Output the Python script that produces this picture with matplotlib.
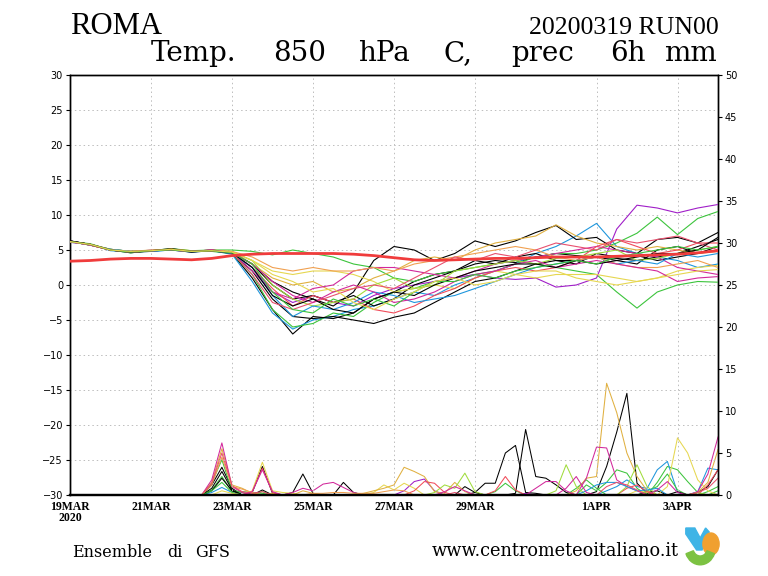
import matplotlib
matplotlib.use("Agg")
import matplotlib.pyplot as plt
from matplotlib.patches import Polygon, Ellipse, Wedge

# time axis: hours from 19MAR2020 00z
hours_t = list(range(0, 385, 12))   # temperature, 12h
hours_p = list(range(0, 385, 6))    # precipitation, 6h

tick_hours = [0, 48, 96, 144, 192, 240, 312, 360]
tick_labels = ["19MAR\n2020", "21MAR", "23MAR", "25MAR", "27MAR", "29MAR", "1APR", "3APR"]

# ensemble colours (GrADS-like)
member_colors = ["#000000", "#3cc43c", "#1e96dc", "#3cc43c", "#a01ec8",
                 "#000000", "#000000", "#000000", "#e6d750", "#e0b040",
                 "#d2289b", "#f04b5a", "#a0dc3c", "#1e96dc", "#f0a050",
                 "#e8506e", "#d2289b", "#000000", "#3cc43c", "#e6d750"]

# temperature 850 hPa, one list per member (12h)
temp_members = [
    [6.3,5.8,5.0,4.6,4.9,5.0,4.7,5.0,4.5, 1.0,-3.5,-7.0,-4.5,-4.8,-4.0,-2.0,-1.0,0.5,1.5,2.0,3.0,3.5,3.2,4.0,4.5,4.2,4.0,3.8,3.5,4.0,4.5,5.5,6.5],
    [6.2,5.7,5.1,4.8,4.9,5.2,4.9,5.0,5.0, 4.8,4.3,5.0,4.5,4.0,3.0,2.5,1.0,0.5,1.5,2.0,2.5,3.0,3.5,3.0,2.5,2.0,1.5,-1.0,-3.3,-1.0,0.0,0.5,0.4],
    [6.1,5.8,4.9,4.7,4.8,5.0,4.7,4.9,4.4, 0.5,-4.0,-6.3,-5.0,-4.5,-3.5,-3.0,-2.0,-1.0,-1.5,0.0,1.0,2.0,3.0,4.5,5.5,7.0,8.8,5.5,4.5,4.0,3.5,2.5,3.0],
    [6.2,5.9,5.0,4.6,4.9,5.1,4.8,4.8,4.5, 1.5,-3.5,-6.0,-5.5,-4.0,-4.5,-2.5,-1.0,-0.5,0.5,1.0,1.5,2.0,3.0,4.0,4.5,4.5,5.0,6.0,7.4,9.7,7.2,9.5,10.5],
    [6.3,5.7,5.0,4.7,5.0,5.0,4.8,4.9,4.6, 2.5,-1.0,-2.5,-1.5,-2.5,-3.0,-1.5,-0.5,0.0,0.5,1.0,1.5,1.0,0.8,1.0,-0.3,0.0,1.0,8.0,11.4,11.0,10.3,11.0,11.5],
    [6.2,5.8,5.1,4.8,4.9,5.2,4.8,5.0,4.7, 3.0,0.5,-1.0,-2.0,-3.0,-1.0,3.5,5.5,5.0,3.5,4.5,6.3,5.5,6.3,7.5,8.5,6.5,6.8,5.0,4.5,6.5,6.8,6.0,7.5],
    [6.2,5.7,5.0,4.7,4.8,5.1,4.7,4.9,4.5, 2.0,-2.0,-4.5,-4.8,-4.5,-5.0,-5.5,-4.6,-4.0,-2.5,-1.0,0.5,1.0,2.0,3.0,3.5,3.0,4.5,4.0,4.2,3.5,4.0,4.5,5.5],
    [6.3,5.8,5.0,4.7,4.9,5.0,4.9,4.9,4.6, 3.0,0.0,-2.0,-1.5,-2.5,-1.5,-3.0,-2.0,0.0,1.0,2.0,3.5,3.0,4.0,4.5,3.5,3.5,4.0,3.5,3.0,5.0,5.5,4.5,5.0],
    [6.2,5.8,5.1,4.8,4.9,5.0,4.8,5.0,4.8, 3.5,2.0,1.5,2.0,2.0,1.5,0.5,-1.0,-0.5,0.0,-0.5,1.0,2.0,1.5,1.0,1.5,1.5,1.5,1.0,0.5,1.0,2.0,2.5,2.8],
    [6.2,5.7,5.0,4.8,5.0,5.1,4.9,4.9,4.7, 3.0,1.0,0.0,0.5,-1.0,-0.5,1.0,2.0,3.5,4.0,3.5,5.0,6.0,6.5,7.0,8.6,7.0,6.0,5.5,5.0,5.5,5.0,4.5,4.8],
    [6.1,5.8,5.0,4.7,4.9,5.0,4.8,5.0,4.6, 2.0,-1.0,-2.0,-0.5,0.0,2.0,2.5,2.5,2.0,1.5,1.0,2.0,3.0,3.5,4.0,4.5,5.0,5.5,5.0,4.5,4.0,2.5,2.0,1.5],
    [6.2,5.7,5.0,4.8,4.9,5.1,4.8,4.9,4.6, 2.5,-0.5,-3.0,-1.5,-2.5,-2.0,-3.5,-4.0,-3.0,-1.5,-0.5,1.0,2.0,2.5,2.0,2.5,3.5,5.5,6.5,5.5,4.5,5.0,6.0,6.0],
    [6.2,5.8,5.0,4.7,4.9,5.1,4.9,4.9,4.7, 3.5,0.0,-2.0,-3.0,-2.5,-2.0,0.0,1.0,-0.5,0.0,2.0,2.5,3.0,3.5,3.0,3.8,4.0,4.5,5.0,3.5,3.8,4.5,5.0,5.5],
    [6.2,5.7,5.1,4.8,4.8,5.0,4.8,4.9,4.5, 2.5,-1.5,-4.5,-3.0,-3.5,-2.5,-1.0,-1.5,-2.5,-2.0,-1.5,-0.5,0.5,1.5,2.5,3.0,3.5,4.0,3.0,3.5,3.0,4.5,4.0,4.5],
    [6.2,5.8,5.0,4.7,4.9,5.1,4.8,4.9,4.8, 4.0,2.5,2.0,2.5,2.0,2.0,2.5,2.0,3.0,3.5,4.0,4.5,5.0,5.5,5.0,4.0,3.5,4.0,3.0,2.5,2.5,3.0,3.5,2.5],
    [6.2,5.7,5.0,4.7,4.9,5.0,4.8,4.9,4.6, 1.5,-2.5,-3.5,-2.5,-1.5,-0.5,0.0,-0.5,1.0,2.5,4.0,3.5,4.5,4.0,5.0,6.0,5.5,5.0,6.5,6.0,6.5,7.0,6.0,5.0],
    [6.2,5.8,5.0,4.7,4.9,5.0,4.8,5.0,4.6, 3.0,0.5,-1.5,-2.5,-1.0,0.0,-1.0,-2.5,-2.0,-1.0,0.5,1.5,2.0,3.0,3.5,2.5,3.0,3.5,3.0,2.5,2.0,0.5,1.0,1.2],
    [6.3,5.8,5.0,4.7,4.9,5.1,4.8,4.9,4.6, 2.5,-1.5,-3.0,-2.0,-3.5,-4.0,-2.0,-1.0,-1.5,0.0,1.0,2.0,2.5,3.0,3.0,2.5,3.5,3.0,3.5,4.0,4.5,4.5,5.0,6.8],
    [6.2,5.8,5.0,4.7,4.9,5.0,4.8,4.9,4.6, 3.0,-1.0,-3.5,-4.0,-2.0,-3.0,-2.0,-3.0,-1.0,0.5,0.5,1.5,1.0,2.0,2.5,3.0,3.5,3.0,4.0,4.5,5.0,5.5,5.0,5.5],
    [6.2,5.8,5.0,4.8,4.9,5.1,4.8,4.9,4.7, 3.5,1.5,0.5,-1.0,-0.5,-2.5,-3.5,-2.0,-1.0,0.5,1.0,0.0,0.5,1.5,2.0,2.0,1.0,0.5,0.0,0.5,1.0,1.5,2.0,2.2],
]

# climatology (thick red)
temp_clim = [3.4,3.5,3.7,3.8,3.8,3.7,3.6,3.8,4.2, 4.4,4.5,4.5,4.5,4.5,4.4,4.2,3.9,3.6,
             3.5,3.6,3.7,3.8,3.8,3.9,4.0,4.0,4.0, 4.1,4.2,4.3,4.4,4.6,4.9]

# 6h precipitation (mm), one list per member, 65 steps
prec_members = [
    [0,0,0,0,0,0,0,0,0,0,0,0,0,
     0,1.2,3.3,0.8,0,0.3,3.4,0.2,0,0,0,0,0,
     0,0,0,0,0,0,0,0,0,0,0,0,0,
     0,0,0,0,0,0,0,0,0,0,0,0,0,
     0.4,3.4,7.5,12.1,1.4,0.2,0,0,0,0,0,0,0],
    [0,0,0,0,0,0,0,0,0,0,0,0,0,
     0,1.4,4.2,0.5,0.4,0.3,0.2,0,0,0,0,0,0,
     0,0,0,0,0,0,0,0,0,0,0,0,0,
     0,0,0,0.4,1.4,0.5,0,0,0,0,0,0,1.2,
     0.5,1.5,3.0,2.6,0.8,0,1.5,3.4,3.0,1.6,0.3,0,0.5],
    [0,0,0,0,0,0,0,0,0,0,0,0,0,
     0,0.3,0.9,0.3,0,0,0,0,0,0,0,0,0,
     0,0,0,0,0,0,0,0,0,0,0,0,0,
     0,0,0,0,0,0,0,0,0,0,0,0,0,
     0,0.5,1.0,1.8,1.0,0.8,3.0,4.0,0.3,0,0.4,3.2,3.0],
    [0,0,0,0,0,0,0,0,0,0,0,0,0,
     0,0.6,2.2,0.4,0.3,0,0.4,0,0,0,0,0,0,
     0,0,0,0,0,0,0,0,0,0,0,0,0,
     0,0,0,0,0,0,0,0,0,0,0,0.8,1.8,
     0.8,0,0,0,0,0.5,1.0,2.5,0.6,0,0,0.4,1.0],
    [0,0,0,0,0,0,0,0,0,0,0,0,0,
     0,0,0,0,0,0,0,0,0,0,0,0,0,
     0,0,0,0,0,0,0,0.5,1.6,1.9,0.5,0,0,
     0,0,0,0,0,0,0.2,0,0,0,0,0,0,
     0,0,0,0,0,0,0,0,0,0,0,0,0],
    [0,0,0,0,0,0,0,0,0,0,0,0,0,
     0,0.5,2.0,0.5,0,0,0,0,0,0.3,2.5,0.2,0,
     0,1.5,0.3,0,0,0,0,0,0,0,0,0,0,
     0,0.3,1.4,1.4,5.0,5.9,0.3,0.2,0,0,0,0,0,
     0,0,0,0,0,0,0,0,0,0,0,0,0],
    [0,0,0,0,0,0,0,0,0,0,0,0,0,
     0,0.8,2.8,0.6,0,0,0.6,0,0,0,0,0,0,
     0,0,0,0,0,0,0,0,0,0,0,0,0,
     1.0,0.3,0,0,0,0.2,7.8,2.2,2.0,1.2,0.3,0,0,
     0,0,0,0,0,0,0,0,0,0,0.3,1.0,3.0],
    [0,0,0,0,0,0,0,0,0,0,0,0,0,
     0,0,0,0,0,0,0,0,0,0,0,0,0,
     0,0,0,0,0,0,0,0,0,0,0,0,0,
     0,0,0,0,0,0,0,0,0,0,0,0,0,
     0,0,0,0,0,0.3,0.5,0,0.4,0,0,0,0],
    [0,0,0,0,0,0,0,0,0,0,0,0,0,
     0,0,0,0,0,0.5,3.9,0.5,0.3,0.2,0,0,0,
     0,0,0,0,0.3,1.2,0.6,1.4,0.8,0,0,0,0,
     0,0,0,0,0,0,0,0,0,0,0,0,0,
     0,0,0,0,0.5,0.3,0,1.0,6.8,5.0,1.8,0.5,0],
    [0,0,0,0,0,0,0,0,0,0,0,0,0,
     0,1.5,5.5,1.2,0.8,0.2,0,0.2,0,0,0.5,0.2,0,
     0,0,0,0.2,0.5,0.8,1.2,3.3,2.8,2.2,0.4,0.2,1.5,
     0.4,0,0,0,0,0,0,0,0,0,0,0.5,2.0,
     2.2,13.3,9.8,5.0,2.2,0.5,0,0,0,0,0.3,1.5,5.4],
    [0,0,0,0,0,0,0,0,0,0,0,0,0,
     0,1.8,6.2,1.0,0.3,0,0,0,0,0.3,0.8,0.5,1.3,
     1.5,0.9,0.3,0,0,0,0,0,0,0,0,0,0,
     0,0,0,0,0,0,0,0.8,1.6,1.6,0.5,0,2.0,
     5.7,5.6,1.8,1.0,0.5,0,0,0,0,0,0.4,2.5,6.9],
    [0,0,0,0,0,0,0,0,0,0,0,0,0,
     0,0,0,0,0,0.4,3.2,0.3,0,0,0,0,0,
     0,0,0,0,0,0,0,0,0.5,1.6,1.4,0.3,0,
     0,0,0,0.5,2.2,0.6,0,0,0,0,0,0,0,
     0,0,0,0.8,1.2,0.4,0,0,0,0,0,1.2,3.0],
    [0,0,0,0,0,0,0,0,0,0,0,0,0,
     0,0,0,0,0,0,0,0,0,0,0,0,0,
     0,0,0,0,0,0,0,0,0,0,0.3,1.2,0.8,
     2.6,0.4,0,0,0,0,0,0,0,0.5,3.6,1.0,0,
     0,0,0,1.0,3.6,1.0,0,0,0,0,0.3,0,0],
    [0,0,0,0,0,0,0,0,0,0,0,0,0,
     0,0,0,0,0,0,0,0,0,0,0,0,0,
     0,0,0,0,0,0,0,0,0,0,0,0,0,
     0,0,0,0,0,0,0,0,0,0,0,0,0.5,
     1.2,1.5,1.5,1.0,0.5,0.6,0.8,0,0,0,0,0,0],
    [0,0,0,0,0,0,0,0,0,0,0,0,0,
     0,1.2,4.5,1.0,0.7,0.3,0,0,0,0,0,0.2,0.2,
     0.3,0.3,0.2,0.2,0.2,0.4,0.6,0.5,0,0,0,0,0,
     0,0,0,0,0,0,0,0,0,0,0,0,0,
     0,0,0,0,0,0,0,0,0,0,0,0,0],
    [0,0,0,0,0,0,0,0,0,0,0,0,0,
     0,1.4,5.0,1.1,0.4,0.2,0.4,0,0,0,0,0,0,
     0,0,0,0,0,0,0,0,0,0,0,0,0.3,
     0,0,0,0,0,0,0,0,0,0,0,0,0,
     0,1.0,1.5,1.2,0.6,0,0,0,0,0,0.3,0.8,2.0],
    [0,0,0,0,0,0,0,0,0,0,0,0,0,
     0,0,0,0,0,0.4,3.0,0.4,0,0,0,0,0,
     0,0,0,0,0,0,0,0,0,0,0,0.4,1.0,
     0.5,0,0,0,0,0,0,0,0,0,0.8,2.2,0.3,
     0,0,0,0,0,0,0.6,1.6,0.3,0,0,0,0],
    [0,0,0,0,0,0,0,0,0,0,0,0,0,
     0,0,0,0,0,0,0,0,0,0,0,0,0,
     0,0,0,0,0,0,0,0,0,0,0,0,0,
     0,0,0,0,0,0,0,0,0,0,0,0,0,
     0,0,0,0,0,0,0,0,0,0,0,0,0],
    [0,0,0,0,0,0,0,0,0,0,0,0,0,
     0,0.5,1.5,0.3,0,0,0,0,0,0,0,0,0,
     0,0,0,0,0,0,0,0,0,0,0,0,0,
     0,0,0,0,0,0,0,0,0,0,0,0,0,
     0,0,0,0,0,0,0,0,0,0,0,0,0],
    [0,0,0,0,0,0,0,0,0,0,0,0,0,
     0,0,0.5,0.2,0,0,0,0,0,0,0,0,0,
     0,0,0,0,0,0,0,0,0,0,0,0,0,
     0,0,0,0,0,0,0,0,0,0,0,0,0,
     0,0,0,0,0,0,0,0,0,0,0,0,0],
]

W, H = 768, 576
fig = plt.figure(figsize=(7.68, 5.76), dpi=100)
ax = fig.add_axes([70 / W, 1 - 495 / H, 648 / W, 420 / H])
axp = ax.twinx()

# precipitation first (underneath)
for vals, c in zip(prec_members, member_colors):
    axp.plot(hours_p, vals, color=c, lw=0.75, zorder=2)

for vals, c in zip(temp_members, member_colors):
    ax.plot(hours_t, vals, color=c, lw=0.8, zorder=3)
ax.plot(hours_t, temp_clim, color="#f03c3c", lw=2.0, zorder=4)

ax.set_xlim(0, 384)
ax.set_ylim(-30, 30)
axp.set_ylim(0, 50)
ax.set_zorder(axp.get_zorder() + 1)
ax.patch.set_visible(False)

ax.set_yticks(range(-30, 31, 5))
axp.set_yticks(range(0, 51, 5))
ax.set_xticks(tick_hours)
ax.set_xticklabels(tick_labels, fontfamily="Liberation Serif", fontsize=8.5,
                   fontweight="bold", linespacing=0.95)
ax.tick_params(axis="y", labelsize=7, length=3, width=0.8, pad=2)
axp.tick_params(axis="y", labelsize=7, length=3, width=0.8, pad=2)
ax.tick_params(axis="x", length=0, pad=4)

ax.grid(True, color="#bdbdbd", linestyle=(0, (1.5, 3)), lw=0.7)
for s in ["left", "right", "top"]:
    ax.spines[s].set_linewidth(1.0)
    axp.spines[s].set_linewidth(1.0)
ax.spines["bottom"].set_linewidth(1.6)
axp.spines["bottom"].set_linewidth(1.6)


def fit_text(x0, x1, ybase, s, family, size):
    # left edge at x0 px, font size scaled so the text ends at x1
    t = fig.text(x0 / W, 1 - ybase / H, s, fontfamily=family, fontsize=size, va="baseline")
    w = t.get_window_extent(fig.canvas.get_renderer()).width
    t.set_fontsize(size * (x1 - x0) / w)
    return t


def spaced_words(x0, x1, ybase, s, family, size):
    # the original uses a wide fixed-pitch font: centre each word on its character cells
    cell = (x1 - x0) / len(s)
    k = 0
    for word in s.split(" "):
        xc = x0 + (k + len(word) / 2) * cell
        fig.text(xc / W, 1 - ybase / H, word, fontfamily=family, fontsize=size,
                 ha="center", va="baseline")
        k += len(word) + 1


fit_text(70, 162, 34, "ROMA", "Liberation Serif", 22)
fit_text(529, 718, 34, "20200319 RUN00", "Liberation Serif", 18)
spaced_words(141, 712, 61, "Temp. 850 hPa C, prec 6h mm", "DejaVu Serif", 20)
spaced_words(70, 228, 557, "Ensemble di GFS", "DejaVu Serif", 11.5)
fit_text(432, 680, 556, "www.centrometeoitaliano.it", "DejaVu Serif", 11)

# small logo
lg = fig.add_axes([684 / W, 10 / H, 36 / W, 40 / H])
lg.set_xlim(0, 1)
lg.set_ylim(0, 1)
lg.axis("off")
lg.add_patch(Polygon([[0.05, 0.95], [0.3, 0.95], [0.45, 0.7], [0.6, 0.95], [0.7, 0.85],
                      [0.5, 0.4], [0.35, 0.4], [0.05, 0.8]], closed=True, color="#3fb4e6"))
lg.add_patch(Ellipse((0.75, 0.55), 0.45, 0.55, color="#f0a030"))
lg.add_patch(Wedge((0.45, 0.45), 0.42, 200, 340, width=0.22, color="#7cc242"))

fig.savefig("out.png", dpi=100)
